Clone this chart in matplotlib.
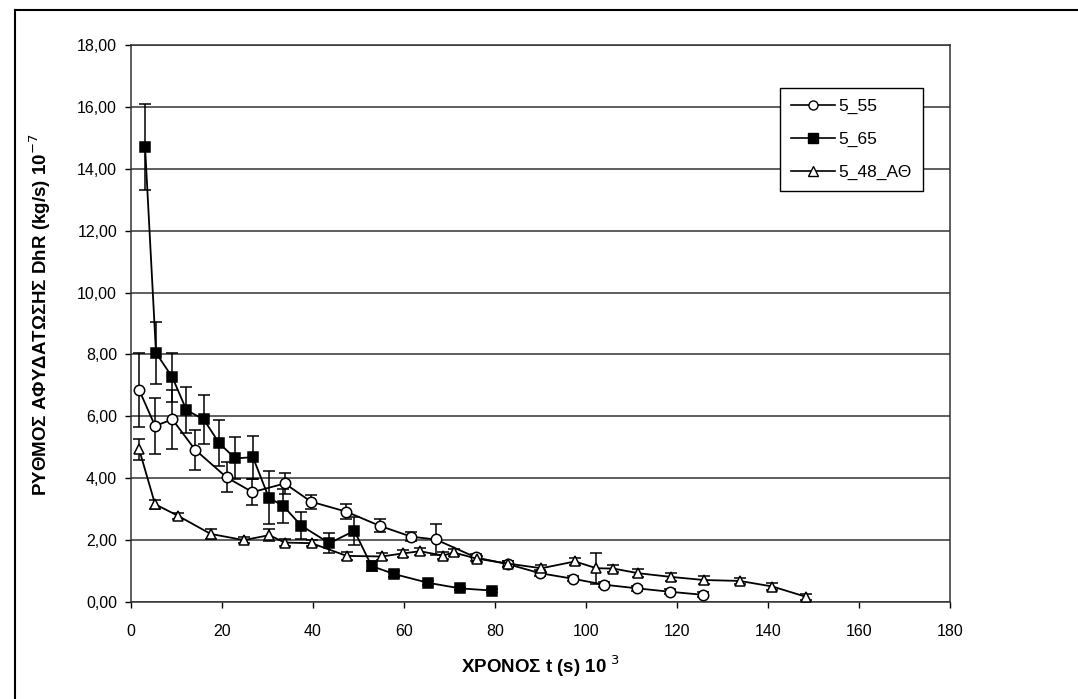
import matplotlib
matplotlib.use("Agg")
import matplotlib.pyplot as plt
from matplotlib.lines import Line2D
from matplotlib.ticker import FuncFormatter

plt.rcParams['font.family'] = ['Liberation Sans', 'DejaVu Sans']

# 5_55 (open circles)
t_55 = [1.8, 5.3, 9.1, 14.1, 21.0, 26.7, 33.8, 39.6, 47.3, 54.7, 61.6, 67.0,
        75.8, 82.9, 89.9, 97.2, 103.9, 111.3, 118.5, 125.8]
r_55 = [6.85, 5.69, 5.90, 4.92, 4.03, 3.55, 3.83, 3.24, 2.92, 2.46, 2.11, 2.02,
        1.44, 1.22, 0.93, 0.75, 0.56, 0.44, 0.33, 0.23]
e_55 = [1.2, 0.9, 0.95, 0.65, 0.48, 0.42, 0.34, 0.23, 0.25, 0.21, 0.15, 0.5,
        0.1, 0.1, 0.1, 0.08, 0.08, 0.08, 0.08, 0.08]

# 5_65 (filled squares)
t_65 = [3.1, 5.5, 9.1, 12.2, 16.0, 19.4, 22.9, 26.8, 30.3, 33.5, 37.4, 43.6,
        49.1, 52.9, 57.9, 65.3, 72.3, 79.3]
r_65 = [14.70, 8.05, 7.26, 6.20, 5.90, 5.13, 4.64, 4.68, 3.37, 3.10, 2.47, 1.90,
        2.30, 1.16, 0.90, 0.62, 0.44, 0.37]
e_65 = [1.4, 1.0, 0.8, 0.75, 0.8, 0.75, 0.68, 0.7, 0.85, 0.56, 0.43, 0.33,
        0.45, 0.15, 0.1, 0.07, 0.06, 0.06]

# 5_48_ΑΘ (open triangles)
t_48 = [1.8, 5.3, 10.4, 17.5, 24.8, 30.4, 33.8, 39.7, 47.4, 55.1, 59.8, 63.5,
        68.6, 70.9, 76.0, 82.9, 90.2, 97.6, 102.3, 106.0, 111.5, 118.7, 125.9,
        133.8, 141.0, 148.3]
r_48 = [4.93, 3.16, 2.78, 2.20, 2.00, 2.16, 1.92, 1.90, 1.49, 1.47, 1.57, 1.64,
        1.50, 1.60, 1.40, 1.24, 1.09, 1.31, 1.09, 1.08, 0.93, 0.81, 0.71,
        0.68, 0.50, 0.17]
e_48 = [0.35, 0.15, 0.1, 0.15, 0.1, 0.2, 0.1, 0.1, 0.12, 0.12, 0.12, 0.12,
        0.12, 0.12, 0.1, 0.1, 0.12, 0.12, 0.5, 0.12, 0.12, 0.12, 0.12,
        0.1, 0.1, 0.1]

series_labels = ['5_55', '5_65', '5_48_ΑΘ']
x_ticks = list(range(0, 181, 20))
y_ticks = [0, 2, 4, 6, 8, 10, 12, 14, 16, 18]

fig = plt.figure(figsize=(10.78, 6.99), dpi=100)
ax = fig.add_axes([0.1215, 0.1388, 0.7597, 0.7968])

common = dict(color='black', linewidth=1.3, elinewidth=1.1, capsize=4.5,
              capthick=1.1, markersize=7.5, markeredgewidth=1.1, zorder=3)
ax.errorbar(t_55, r_55, yerr=e_55, marker='o', markerfacecolor='white',
            markeredgecolor='black', **common)
ax.errorbar(t_65, r_65, yerr=e_65, marker='s', markerfacecolor='black',
            markeredgecolor='black', **common)
ax.errorbar(t_48, r_48, yerr=e_48, marker='^', markerfacecolor='white',
            markeredgecolor='black', **common)

ax.set_xlim(0, 180)
ax.set_ylim(0, 18)
ax.set_xticks(x_ticks)
ax.set_yticks(y_ticks)
ax.yaxis.set_major_formatter(FuncFormatter(lambda v, p: f"{v:.2f}".replace('.', ',')))
ax.tick_params(axis='both', direction='out', length=4, width=1, labelsize=11.5,
               colors='black')
ax.tick_params(axis='x', pad=12)
ax.tick_params(axis='y', pad=6)
ax.grid(axis='y', color='#333333', linewidth=1.1)
ax.set_axisbelow(True)
for s in ax.spines.values():
    s.set_color('#333333')
    s.set_linewidth(1.1)

ax.set_xlabel('ΧΡΟΝΟΣ t (s) 10$^{\\ 3}$', fontsize=13.5, fontweight='bold')
ax.set_ylabel('ΡΥΘΜΟΣ ΑΦΥΔΑΤΩΣΗΣ DhR (kg/s) 10$^{-7}$', fontsize=13.5,
              fontweight='bold')
ax.xaxis.set_label_coords(0.5, -0.093)
ax.yaxis.set_label_coords(-0.095, 0.515)

handles = [Line2D([], [], color='black', lw=1.2, marker='o', markerfacecolor='white',
                  markersize=6.5),
           Line2D([], [], color='black', lw=1.2, marker='s', markerfacecolor='black',
                  markersize=6.5),
           Line2D([], [], color='black', lw=1.2, marker='^', markerfacecolor='white',
                  markersize=6.5)]
leg = ax.legend(handles, series_labels, loc='upper right',
                bbox_to_anchor=(0.967, 0.923), fontsize=12.5, fancybox=False,
                framealpha=1, edgecolor='black', handlelength=2.5,
                handletextpad=0.2, labelspacing=1.0, borderpad=0.65,
                borderaxespad=0)
leg.get_frame().set_linewidth(1.0)
leg.set_zorder(5)

# page border
fig.add_artist(Line2D([0.014, 0.014], [0.0, 0.985], color='black', lw=1.5,
                      transform=fig.transFigure))
fig.add_artist(Line2D([0.014, 1.0], [0.985, 0.985], color='black', lw=1.5,
                      transform=fig.transFigure))

fig.savefig('out.png', dpi=100)
